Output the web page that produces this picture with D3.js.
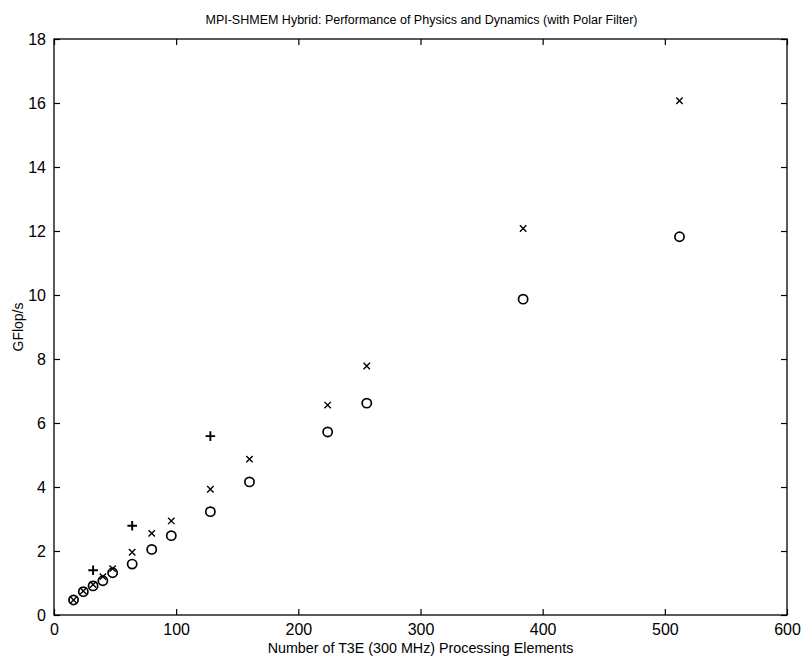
<!DOCTYPE html>
<html><head><meta charset="utf-8">
<script src="https://cdn.jsdelivr.net/npm/d3@7"></script>
<style>
body{margin:0;background:#fff;}
text{font-family:"Liberation Sans",Arial,Helvetica,sans-serif;fill:#000;}
</style></head>
<body><svg id="c" width="801" height="658"></svg>
<script>
const title = "MPI-SHMEM Hybrid: Performance of Physics and Dynamics (with Polar Filter)";
const xLabel = "Number of T3E (300 MHz) Processing Elements";
const yLabel = "GFlop/s";
const xTicks = [0,100,200,300,400,500,600];
const yTicks = [0,2,4,6,8,10,12,14,16,18];
// circles
const circPE = [16,24,32,40,48,64,80,96,128,160,224,256,384,512];
const circVal = [0.47,0.73,0.91,1.07,1.32,1.59,2.05,2.48,3.23,4.16,5.72,6.62,9.87,11.82];
// x markers
const crossPE = [16,24,32,40,48,64,80,96,128,160,224,256,384,512];
const crossVal = [0.47,0.75,0.95,1.2,1.45,1.96,2.55,2.94,3.93,4.87,6.56,7.78,12.08,16.07];
// plus markers
const plusPE = [32,64,128];
const plusVal = [1.4,2.79,5.59];

const svg = d3.select("#c");
const L=54, R=787, T=39, B=615;
const x = d3.scaleLinear().domain([0,600]).range([L,R]);
const y = d3.scaleLinear().domain([0,18]).range([B,T]);

const g = svg.append("g");
g.append("rect").attr("x",L).attr("y",T).attr("width",R-L).attr("height",B-T)
 .attr("fill","none").attr("stroke","#000").attr("stroke-width",1.3);

const fs = "16px";
const xb = g.append("g").attr("transform",`translate(0,${B})`)
 .call(d3.axisBottom(x).tickValues(xTicks).tickSize(-6).tickPadding(9).tickFormat(d3.format("d")));
const xt = g.append("g").attr("transform",`translate(0,${T})`)
 .call(d3.axisTop(x).tickValues(xTicks).tickSize(-6).tickFormat(""));
const yl = g.append("g").attr("transform",`translate(${L},0)`)
 .call(d3.axisLeft(y).tickValues(yTicks).tickSize(-6).tickPadding(8).tickFormat(d3.format("d")));
const yr = g.append("g").attr("transform",`translate(${R},0)`)
 .call(d3.axisRight(y).tickValues(yTicks).tickSize(-6).tickFormat(""));
[xb,xt,yl,yr].forEach(a=>{
  a.select(".domain").remove();
  a.selectAll("line").attr("stroke","#000").attr("stroke-width",1.2);
  a.selectAll("text").attr("font-size",fs).attr("font-family","Liberation Sans, Arial, sans-serif").attr("fill","#000");
});

g.selectAll("circle.o").data(circPE.map((p,i)=>[p,circVal[i]])).enter().append("circle")
 .attr("cx",d=>x(d[0])).attr("cy",d=>y(d[1])).attr("r",4.6)
 .attr("fill","none").attr("stroke","#000").attr("stroke-width",1.7);
const s=3.2;
g.selectAll("path.x").data(crossPE.map((p,i)=>[p,crossVal[i]])).enter().append("path")
 .attr("d",d=>{const cx=x(d[0]),cy=y(d[1]);return `M${cx-s},${cy-s}L${cx+s},${cy+s}M${cx-s},${cy+s}L${cx+s},${cy-s}`;})
 .attr("stroke","#000").attr("stroke-width",1.4).attr("fill","none");
const p=4.8;
g.selectAll("path.p").data(plusPE.map((q,i)=>[q,plusVal[i]])).enter().append("path")
 .attr("d",d=>{const cx=x(d[0]),cy=y(d[1]);return `M${cx-p},${cy}L${cx+p},${cy}M${cx},${cy-p}L${cx},${cy+p}`;})
 .attr("stroke","#000").attr("stroke-width",1.9).attr("fill","none");

svg.append("text").attr("x",(L+R)/2+1).attr("y",24).attr("text-anchor","middle")
 .attr("font-size","12.5px").text(title);
svg.append("text").attr("x",(L+R)/2).attr("y",653).attr("text-anchor","middle")
 .attr("font-size","14.3px").text(xLabel);
svg.append("text").attr("transform",`translate(23,${(T+B)/2}) rotate(-90)`).attr("text-anchor","middle")
 .attr("font-size","14px").text(yLabel);
</script></body></html>
